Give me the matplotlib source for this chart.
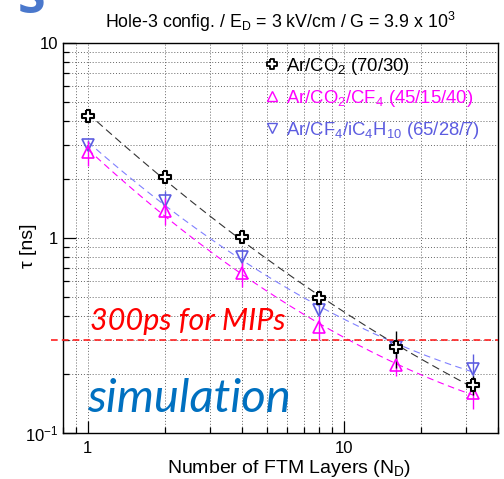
import numpy as np
import matplotlib
matplotlib.use("Agg")
import matplotlib.pyplot as plt
from matplotlib.path import Path
from matplotlib.lines import Line2D
from matplotlib.ticker import LogLocator, NullFormatter, FixedLocator, FixedFormatter
import matplotlib.transforms as mtransforms

plt.rcParams["font.family"] = ["Liberation Sans", "DejaVu Sans"]
plt.rcParams["mathtext.fontset"] = "custom"
plt.rcParams["mathtext.rm"] = "Liberation Sans"
plt.rcParams["mathtext.it"] = "Liberation Sans:italic"

# number of FTM layers
layers = [1, 2, 4, 8, 16, 32]

# timing resolution tau [ns] per gas mixture
tau_arco2 = [4.25, 2.05, 1.01, 0.49, 0.275, 0.176]
err_arco2 = [0.10, 0.06, 0.04, 0.025, 0.06, 0.02]

tau_arco2cf4 = [2.75, 1.38, 0.66, 0.35, 0.223, 0.16]
err_arco2cf4 = [0.40, 0.22, 0.10, 0.05, 0.027, 0.027]

tau_arcf4 = [3.0, 1.55, 0.80, 0.43, 0.275, 0.213]
err_arcf4 = [0.20, 0.20, 0.08, 0.03, 0.03, 0.04]

labels = [r"Ar/CO$_2$ (70/30)",
          r"Ar/CO$_2$/CF$_4$ (45/15/40)",
          r"Ar/CF$_4$/iC$_4$H$_{10}$ (65/28/7)"]

mip_limit = 0.3

# open cross marker (ROOT style 28)
a, b = 1.0, 0.36
cross = Path([(-b, a), (b, a), (b, b), (a, b), (a, -b), (b, -b), (b, -a),
              (-b, -a), (-b, -b), (-a, -b), (-a, b), (-b, b), (-b, a)])

black = "#000000"
magenta = "#FF00FF"
violet = "#5C5CE0"

fig = plt.figure(figsize=(5.04, 4.79), dpi=100)
ax = fig.add_axes([0.125, 0.096, 0.863, 0.814])
ax.set_xscale("log")
ax.set_yscale("log")
ax.set_xlim(0.8, 40)
ax.set_ylim(0.1, 10)

series = [
    (tau_arco2, err_arco2, black, "#333333", cross, 8, (7, 4)),
    (tau_arco2cf4, err_arco2cf4, magenta, magenta, "^", 8, (6, 4)),
    (tau_arcf4, err_arcf4, violet, "#8080FF", "v", 8, (6, 4)),
]

x = np.array(layers, dtype=float)
xfit = np.logspace(0, np.log10(32), 200)
for vals, errs, col, fitcol, mk, ms, dash in series[::-1]:
    # quadratic fit in log-log space
    coef = np.polyfit(np.log(x), np.log(vals), 2)
    yfit = np.exp(np.polyval(coef, np.log(xfit)))
    ax.plot(xfit, yfit, color=fitcol, lw=0.8, dashes=dash, zorder=2)
    ax.errorbar(x, vals, yerr=errs, fmt="none", ecolor=col, elinewidth=1.0,
                capsize=0, zorder=3)
    ax.plot(x, vals, ls="none", marker=mk, ms=ms, mfc="white" if mk is cross else "none",
            mec=col, mew=1.5 if mk is cross else 1.2, zorder=4)

# 300 ps line
trans = mtransforms.blended_transform_factory(ax.transAxes, ax.transData)
ax.plot([-0.027, 1.0], [mip_limit, mip_limit], transform=trans, color="#FF2020",
        lw=1.2, ls=(0, (4, 2.5)), clip_on=False, zorder=5)

ax.text(0.062, 0.265, "300ps for MIPs", transform=ax.transAxes, color="#FF0000",
        fontsize=22, style="italic", family=["Lato", "DejaVu Sans"])
ax.text(0.056, 0.054, "simulation", transform=ax.transAxes, color="#0070C0",
        fontsize=34, style="italic", family=["Lato", "DejaVu Sans"])

# legend
handles = [Line2D([], [], ls="none", marker=cross, ms=7, mfc="white", mec=black, mew=1.3),
           Line2D([], [], ls="none", marker="^", ms=7, mfc="none", mec=magenta, mew=1.0),
           Line2D([], [], ls="none", marker="v", ms=7, mfc="none", mec=violet, mew=1.0)]
leg = ax.legend(handles, labels, loc="upper left", bbox_to_anchor=(0.45, 0.987),
                frameon=False, fontsize=13.3, handlelength=0.6, handletextpad=0.5,
                labelspacing=0.6, borderaxespad=0)
for t, c in zip(leg.get_texts(), [black, magenta, violet]):
    t.set_color(c)

# grid and ticks
ax.grid(True, which="both", color="#666666", ls=(0, (1, 2)), lw=0.7)
ax.set_axisbelow(True)
ax.xaxis.set_major_locator(FixedLocator([1, 10]))
ax.xaxis.set_major_formatter(FixedFormatter(["1", "10"]))
ax.xaxis.set_minor_locator(LogLocator(base=10, subs=np.arange(2, 10)))
ax.xaxis.set_minor_formatter(NullFormatter())
ax.yaxis.set_major_locator(FixedLocator([0.1, 1, 10]))
ax.yaxis.set_major_formatter(FixedFormatter([r"10$^{-1}$", "1", "10"]))
ax.yaxis.set_minor_locator(LogLocator(base=10, subs=np.arange(2, 10)))
ax.yaxis.set_minor_formatter(NullFormatter())
ax.tick_params(which="both", direction="in", labelsize=12, width=0.9)
ax.tick_params(which="major", length=9)
ax.tick_params(which="minor", length=4.5)
ax.tick_params(axis="x", pad=6)
for s in ax.spines.values():
    s.set_linewidth(1.0)

ax.set_xlabel(r"Number of FTM Layers (N$_\mathrm{D}$)", fontsize=14)
ax.xaxis.set_label_coords(0.52, -0.064)
ax.set_ylabel("τ [ns]", fontsize=14)
ax.yaxis.set_label_coords(-0.06, 0.48)
ax.set_title(r"Hole-3 config. / E$_\mathrm{D}$ = 3 kV/cm / G = 3.9 x 10$^3$",
             fontsize=12.8, pad=11)

# cut-off slide title letter
fig.text(0.035, 1.0, "S", fontsize=36, color="#4A78CC", va="center",
         fontweight="bold", family=["Open Sans", "DejaVu Sans"])

fig.savefig("out.png", dpi=100)
